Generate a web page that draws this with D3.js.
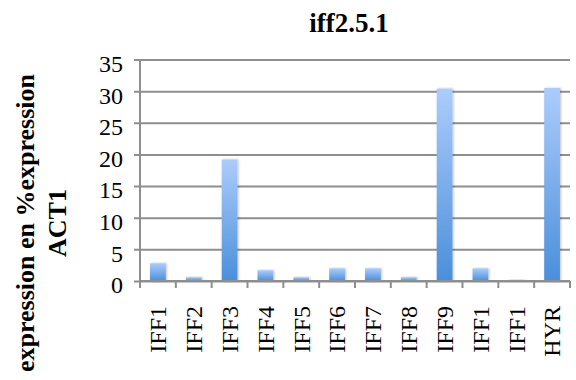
<!DOCTYPE html>
<html>
<head>
<meta charset="utf-8">
<script src="https://cdn.jsdelivr.net/npm/d3@7/dist/d3.min.js"></script>
<style>
  html, body { margin: 0; padding: 0; background: #fff; }
  svg { display: block; }
  svg text { font-family: "Liberation Serif", "Times New Roman", Times, "DejaVu Serif", serif; }
</style>
</head>
<body>
<svg id="chart" width="576" height="380"></svg>
<script>
// Relative expression per gene (% of ACT1)
const categories = ["IFF1", "IFF2", "IFF3", "IFF4", "IFF5", "IFF6", "IFF7", "IFF8", "IFF9", "IFF1", "IFF1", "HYR"];
const values = [2.8, 0.6, 19.2, 1.7, 0.6, 2.0, 2.0, 0.6, 30.4, 2.0, 0.2, 30.5];
const yTicks = [0, 5, 10, 15, 20, 25, 30, 35];
const title = "iff2.5.1";
const yTitleLines = ["expression en %expression", "ACT1"];

const svg = d3.select("#chart");
const margin = { left: 140, right: 6, top: 59.5, bottom: 99 };
const W = 576, H = 380;
const plotW = W - margin.left - margin.right;
const plotH = H - margin.top - margin.bottom;

const keys = categories.map((c, i) => i);
const x = d3.scaleBand().domain(keys).range([margin.left, margin.left + plotW]).paddingInner(0.56).paddingOuter(0.28);
const y = d3.scaleLinear().domain([0, 35]).range([margin.top + plotH, margin.top]);

const gridColor = "#8e8e8e";

// bar gradient and soft shadow
const defs = svg.append("defs");
const grad = defs.append("linearGradient").attr("id", "barFill")
  .attr("x1", 0).attr("y1", 0).attr("x2", 0).attr("y2", 1);
grad.append("stop").attr("offset", "0%").attr("stop-color", "#acccfb");
grad.append("stop").attr("offset", "100%").attr("stop-color", "#4a8fda");
const shadow = defs.append("filter").attr("id", "shadow").attr("x", "-30%").attr("y", "-10%").attr("width", "160%").attr("height", "130%");
shadow.append("feDropShadow").attr("dx", 1).attr("dy", 0).attr("stdDeviation", 1.2).attr("flood-color", "#000").attr("flood-opacity", 0.25);

// gridlines + y axis
const yAxis = d3.axisLeft(y).tickValues(yTicks).tickSize(-plotW).tickSizeOuter(0).tickPadding(0).tickFormat(d3.format("d"));
const gy = svg.append("g").attr("transform", `translate(${margin.left},0)`).call(yAxis);
gy.select(".domain").remove();
gy.selectAll(".tick line").attr("x1", -6).attr("stroke", gridColor).attr("stroke-width", 2);
gy.selectAll(".tick text")
  .attr("x", -17).attr("dy", "0.35em").attr("transform", "translate(0,3.5)")
  .attr("font-size", 24).attr("fill", "#000");

// vertical axis line
svg.append("line")
  .attr("x1", margin.left).attr("x2", margin.left)
  .attr("y1", y(35)).attr("y2", y(0) + 7)
  .attr("stroke", gridColor).attr("stroke-width", 2);

// bars
svg.append("g").selectAll("rect").data(values).join("rect")
  .attr("x", (d, i) => x(i))
  .attr("width", x.bandwidth())
  .attr("y", d => y(d))
  .attr("height", d => y(0) - y(d))
  .attr("fill", "url(#barFill)")
  .attr("filter", "url(#shadow)");

// x axis with boundary ticks
const step = plotW / categories.length;
const gx = svg.append("g").attr("transform", `translate(0,${y(0)})`);
gx.append("line").attr("x1", margin.left).attr("x2", margin.left + plotW)
  .attr("stroke", gridColor).attr("stroke-width", 2);
gx.selectAll("line.tk").data(d3.range(categories.length + 1)).join("line")
  .attr("class", "tk")
  .attr("x1", i => margin.left + i * step).attr("x2", i => margin.left + i * step)
  .attr("y1", 0).attr("y2", 7)
  .attr("stroke", gridColor).attr("stroke-width", 2);
gx.selectAll("text").data(categories).join("text")
  .attr("transform", (d, i) => `translate(${x(i) + x.bandwidth() / 2},${25}) rotate(-90)`)
  .attr("text-anchor", "end")
  .attr("dy", "0.35em")
  .attr("font-size", 24).attr("fill", "#000")
  .text(d => d);

// title
svg.append("text")
  .attr("x", 349).attr("y", 32)
  .attr("text-anchor", "middle")
  .attr("font-weight", "bold").attr("font-size", 27)
  .text(title);

// y axis title (two lines)
const yt = svg.append("text")
  .attr("transform", "translate(0,223) rotate(-90)")
  .attr("text-anchor", "middle")
  .attr("font-weight", "bold").attr("font-size", 26);
yTitleLines.forEach((line, i) => {
  yt.append("tspan").attr("x", 0).attr("y", 34 + i * 32).text(line);
});
</script>
</body>
</html>
